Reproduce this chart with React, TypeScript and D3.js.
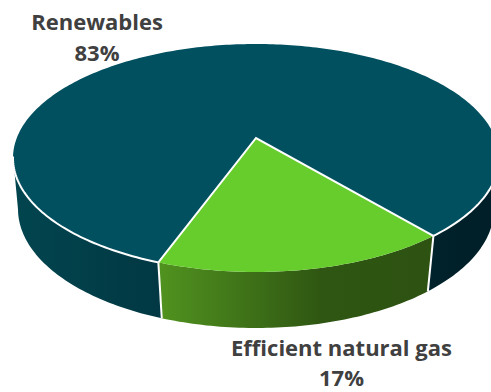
import React from "react";
import * as d3 from "d3";

const categories = ["Renewables", "Efficient natural gas"];
const shares = [83, 17];
const topColors = ["#005060", "#67CD2D"];
const labelLines = [
  { lines: ["Renewables", "83%"], x: 97, y: [30, 61] },
  { lines: ["Efficient natural gas", "17%"], x: 341.5, y: [356, 385.5] },
];

const TAU = Math.PI * 2;
const deg = (d: number) => (d * Math.PI) / 180;

// Slight foreshortening of the slices nearest the viewer, centred on the gas slice.
const warp = (angle: number) => angle + 0.023 * Math.sin(angle - deg(350));

// A tilted disc seen in perspective: a homography from the unit circle to an
// ellipse whose rim spans yTop..yBottom and whose centre lands on yApex.
function disc(cx: number, halfWidth: number, yTop: number, yBottom: number, yApex: number) {
  const k = (yTop + yBottom - 2 * yApex) / (yBottom - yTop);
  const a = (yBottom * (1 - k) - yTop * (1 + k)) / 2;
  const R = halfWidth * Math.sqrt(1 - k * k);
  return (angle: number): [number, number] => {
    const t = warp(angle);
    const u = Math.sin(t);
    const v = -Math.cos(t);
    const w = 1 - k * v;
    return [cx + (R * u) / w, (yApex + a * v) / w];
  };
}

const topRim = disc(256, 243, 44, 272, 138);
const bottomRim = disc(256, 238, 90, 328, 190);

const line = d3.line();

function sweep(rim: (a: number) => [number, number], from: number, to: number) {
  const n = Math.max(2, Math.ceil(Math.abs(to - from) / deg(1)));
  return d3.range(n + 1).map((i) => rim(from + ((to - from) * i) / n));
}

function sidePath(from: number, to: number) {
  return line([...sweep(topRim, from, to), ...sweep(bottomRim, to, from)]) + "Z";
}

const FIRST_SLICE = deg(200.6);
const arcs = d3
  .pie<number>()
  .sort(null)
  .startAngle(FIRST_SLICE)
  .endAngle(FIRST_SLICE + TAU)(shares);

// The visible wall of the pie runs between these rim angles.
const WALL_RIGHT = deg(98);
const WALL_LEFT = deg(262);

export default function App() {
  const [teal, green] = arcs;
  const gasStart = green.startAngle - TAU;
  const gasEnd = green.endAngle - TAU;
  const apex: [number, number] = [256, 138];

  const slicePath = (a: d3.PieArcDatum<number>) =>
    line([apex, ...sweep(topRim, a.startAngle, a.endAngle)]) + "Z";

  const edge = (angle: number) => {
    const [x1, y1] = topRim(angle);
    const [x2, y2] = bottomRim(angle);
    return <line x1={x1} y1={y1} x2={x2} y2={y2} stroke="#fff" strokeWidth={2} />;
  };

  return (
    <svg
      width={491}
      height={392}
      style={{ position: "absolute", left: 0, top: 0 }}
      fontFamily="'Open Sans', 'Noto Sans', sans-serif"
    >
      <defs>
        <linearGradient id="wallLeft" gradientUnits="userSpaceOnUse" x1={14} x2={160} y1={0} y2={0}>
          <stop offset="0" stopColor="#02454F" />
          <stop offset="1" stopColor="#013843" />
        </linearGradient>
        <linearGradient id="wallRight" gradientUnits="userSpaceOnUse" x1={430} x2={491} y1={0} y2={0}>
          <stop offset="0" stopColor="#00222B" />
          <stop offset="1" stopColor="#001F28" />
        </linearGradient>
        <linearGradient id="wallGas" gradientUnits="userSpaceOnUse" x1={160} x2={430} y1={0} y2={0}>
          <stop offset="0" stopColor="#50921F" />
          <stop offset="0.6" stopColor="#2F5612" />
          <stop offset="1" stopColor="#2D5212" />
        </linearGradient>
      </defs>

      <path d={sidePath(WALL_LEFT, FIRST_SLICE)} fill="url(#wallLeft)" />
      <path d={sidePath(gasStart, gasEnd)} fill="url(#wallGas)" />
      <path d={sidePath(WALL_RIGHT, gasStart)} fill="url(#wallRight)" />

      <path d={slicePath(teal)} fill={topColors[0]} />
      <path d={slicePath(green)} fill={topColors[1]} />

      {/* white seams: along the teal front rim, the radii and the wall joints */}
      <path d={line(sweep(topRim, FIRST_SLICE, WALL_LEFT)) ?? ""} fill="none" stroke="#fff" strokeWidth={2} />
      <path d={line(sweep(topRim, WALL_RIGHT, gasStart)) ?? ""} fill="none" stroke="#fff" strokeWidth={2} />
      <path
        d={line([topRim(gasStart), apex, topRim(gasEnd)]) ?? ""}
        fill="none"
        stroke="#fff"
        strokeWidth={2}
        strokeLinejoin="miter"
      />
      {edge(gasStart)}
      {edge(gasEnd)}

      {labelLines.map((l, i) =>
        l.lines.map((t, j) => (
          <text
            key={`${categories[i]}-${j}`}
            x={l.x}
            y={l.y[j]}
            textAnchor="middle"
            fontSize={22}
            fontWeight={700}
            fill="#404040"
          >
            {t}
          </text>
        ))
      )}
    </svg>
  );
}
